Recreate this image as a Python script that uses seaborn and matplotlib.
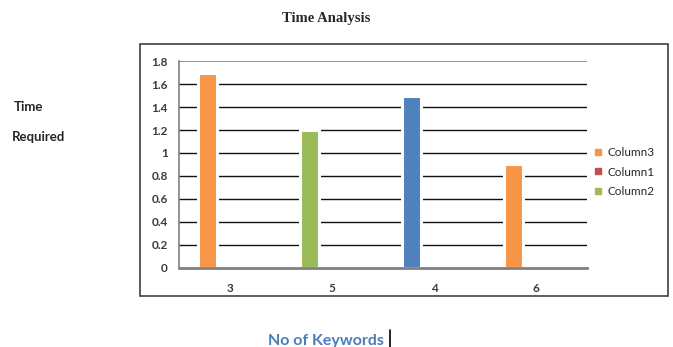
import pandas as pd
import matplotlib
matplotlib.use("Agg")
import matplotlib.pyplot as plt
from matplotlib.lines import Line2D
from matplotlib.patches import Rectangle
import seaborn as sns

# data
categories = ["3", "5", "4", "6"]
time_required = [1.7, 1.2, 1.5, 0.9]
bar_colors = ["#F79646", "#9BBB59", "#4F81BD", "#F79646"]
series_names = ["Column3", "Column1", "Column2"]
series_colors = ["#F79646", "#C0504D", "#9BBB59"]
y_ticks = [0, 0.2, 0.4, 0.6, 0.8, 1, 1.2, 1.4, 1.6, 1.8]
y_tick_labels = ["0", "0.2", "0.4", "0.6", "0.8", "1", "1.2", "1.4", "1.6", "1.8"]

# every bar sits in the first slot of its group
df = pd.DataFrame({
    "keywords": categories,
    "time": time_required,
    "series": [series_names[0]] * len(categories),
})

sns.set_style("white")
plt.rcParams["font.family"] = ["Lato", "DejaVu Sans"]

fig = plt.figure(figsize=(6.73, 3.47), dpi=100)
ax = fig.add_axes([0.266, 0.228, 0.606, 0.596])

sns.barplot(data=df, x="keywords", y="time", hue="series",
            hue_order=series_names, palette=dict(zip(series_names, series_colors)),
            width=0.66, gap=0.15, dodge=True, legend=False, ax=ax,
            edgecolor="white", linewidth=2.2, zorder=3)

# colour each bar on its own
for patch, c in zip(ax.patches, bar_colors):
    patch.set_facecolor(c)

ax.set_ylim(0, 1.8)
ax.set_xlim(-0.5, len(categories) - 0.5)
ax.set_yticks(y_ticks)
ax.set_yticklabels(y_tick_labels)
ax.set_xlabel("")
ax.set_ylabel("")

# gridlines
for y in y_ticks[1:-1]:
    ax.axhline(y, color="#111111", lw=1.0, zorder=1)
ax.axhline(1.8, color="#808080", lw=1.2, zorder=1)

for s in ["top", "right"]:
    ax.spines[s].set_visible(False)
ax.spines["left"].set_color("#808080")
ax.spines["left"].set_linewidth(1.2)
ax.spines["bottom"].set_color("#808080")
ax.spines["bottom"].set_linewidth(2)
ax.spines["bottom"].set_zorder(4)

ax.tick_params(axis="y", length=4, width=1, color="#808080", pad=4,
               labelsize=8.5, labelcolor="#3a3a3a")
ax.tick_params(axis="x", which="major", length=0, pad=11,
               labelsize=8.5, labelcolor="#3a3a3a")
ax.set_xticks([i - 0.5 for i in range(len(categories) + 1)], minor=True)
ax.tick_params(axis="x", which="minor", length=4, width=1, color="#808080",
               direction="out")
for lab in ax.get_xticklabels() + ax.get_yticklabels():
    lab.set_fontweight("bold")

# legend
handles = [Line2D([], [], marker="s", ls="", color=c, markersize=5)
           for c in series_colors]
fig.legend(handles, series_names, loc="center left",
           bbox_to_anchor=(0.884, 0.504), frameon=False, fontsize=8.5,
           handlelength=0.6, handletextpad=0.45, labelspacing=0.75,
           borderpad=0, borderaxespad=0)

# outer chart frame
fig.add_artist(Rectangle((0.208, 0.147), 0.785, 0.726, transform=fig.transFigure,
                         fill=False, edgecolor="#404040", lw=1.2))

fig.text(0.484, 0.948, "Time Analysis", ha="center", va="center",
         family="Liberation Serif", fontweight="bold", fontsize=10.5)
fig.text(0.021, 0.692, "Time", ha="left", va="center",
         fontweight="bold", fontsize=9.5)
fig.text(0.018, 0.605, "Required", ha="left", va="center",
         fontweight="bold", fontsize=9.5)
fig.text(0.484, 0.017, "No of Keywords", ha="center", va="center",
         fontweight="bold", fontsize=11.5, color="#4A7EBB")
fig.add_artist(Line2D([0.580, 0.580], [0.0, 0.05], transform=fig.transFigure,
                      color="black", lw=1.2))

fig.savefig("out.png", dpi=100)
